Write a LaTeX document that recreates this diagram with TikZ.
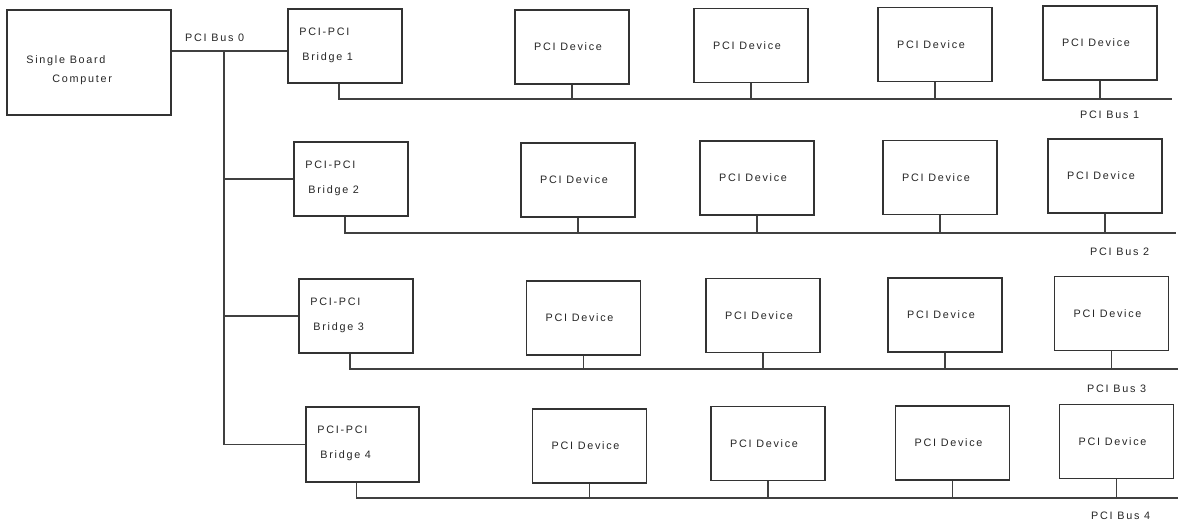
\documentclass[tikz,border=0pt]{standalone}
\usepackage{fontspec}
\setmainfont{Liberation Sans}[LetterSpace=16]
\usetikzlibrary{calc}
\begin{document}
\begin{tikzpicture}[x=1pt,y=-1pt,
  box/.style={draw=black!80,line width=1.6pt,minimum width=114pt,minimum height=74pt,inner sep=0pt},
  wire/.style={draw=black!75,line width=1.6pt},
  txt/.style={font=\fontsize{10.8}{12}\selectfont,text=black!85,inner sep=0pt},
  lbl/.style={txt,anchor=west}]
\useasboundingbox[fill=white] (0,0) rectangle (1178,527);
% single board computer
\node[box,minimum width=164pt,minimum height=105pt] (sbc) at (89,62.5) {};
\node[lbl] (sbct1) at ($(sbc.north west)+(20,52)$) {Single Board};
\node[lbl] (sbct2) at ($(sbc.north west)+(46,71)$) {Computer};
% bridges
\node[box] (b1) at (345,46) {};
\node[box] (b2) at (351,179) {};
\node[box] (b3) at (356,316) {};
\node[box,minimum width=113pt,minimum height=75pt] (b4) at (362.5,444.5) {};
\foreach \i in {1,2,3,4}{
  \node[lbl] (b\i t1) at ($(b\i.north west)+(12,24)$) {PCI-PCI};
  \node[lbl] (b\i t2) at ($(b\i.north west)+(15,50)$) {Bridge \i};
}
% devices
\foreach \n/\x/\y in {11/572/47,12/751/45.5,13/935/44.5,14/1100/43,
                      21/578/180,22/757/178,23/940/177.5,24/1105/176,
                      31/583.5/318,32/763/315.5,33/945/315,34/1111.5/313.5,
                      41/589.5/446,42/768/443.5,43/952.5/443,44/1116.5/441.5}{
  \node[box] (d\n) at (\x,\y) {};
  \node[txt] (d\n t) at ([xshift=-4pt]d\n.center) {PCI Device};
}
% bus 0
\coordinate (t0) at (224,51);
\draw[wire] (sbc.east |- t0) -- (b1.west |- t0);
\draw[wire] (t0) |- (b4.west);
\draw[wire] (t0 |- b2.west) -- (b2.west);
\draw[wire] (t0 |- b3.west) -- (b3.west);
\node[lbl] (bus0) at (185,38) {PCI Bus 0};
% secondary buses
\coordinate (e1) at (1172,99);
\coordinate (e2) at (1176,233);
\coordinate (e3) at (1178,369);
\coordinate (e4) at (1178,498);
\foreach \i in {1,2,3,4}{
  \draw[wire] ([xshift=-6pt]b\i.south) |- (e\i);
  \foreach \j in {1,2,3,4}{
    \draw[wire] (d\i\j.south) -- (d\i\j.south |- e\i);
  }
}
\node[lbl] (bus1) at (1080,115) {PCI Bus 1};
\node[lbl] (bus2) at (1090,252) {PCI Bus 2};
\node[lbl] (bus3) at (1087,389) {PCI Bus 3};
\node[lbl] (bus4) at (1091,516) {PCI Bus 4};
\end{tikzpicture}
\end{document}
